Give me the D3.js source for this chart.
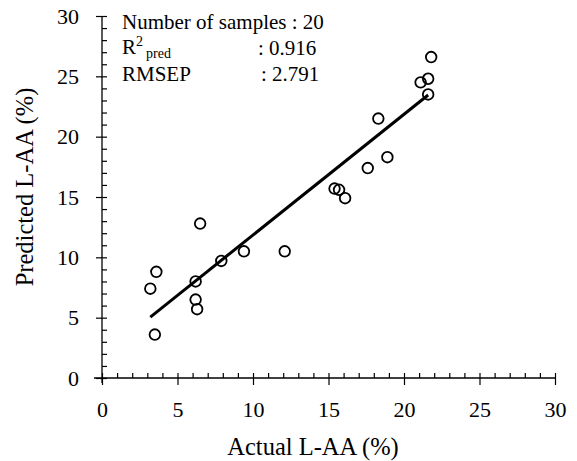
<!DOCTYPE html>
<html>
<head>
<meta charset="utf-8">
<script src="https://cdn.jsdelivr.net/npm/d3@7"></script>
<style>
  body { margin: 0; background: #fff; }
  svg { display: block; }
  text { font-family: "Liberation Serif", "Times New Roman", serif; fill: #000; }
</style>
</head>
<body>
<script>
(function(){

    //measured L-AA values (%)
    var actual = [3.2, 3.6, 3.5, 6.2, 6.2, 6.3, 6.5, 7.9, 9.4, 12.1, 15.4, 15.7, 16.1, 17.6, 18.3, 18.9, 21.1, 21.6, 21.6, 21.8];
    //predicted L-AA values (%)
    var predicted = [7.4, 8.8, 3.6, 8.0, 6.5, 5.7, 12.8, 9.7, 10.5, 10.5, 15.7, 15.6, 14.9, 17.4, 21.5, 18.3, 24.5, 24.8, 23.5, 26.6];
    //regression line ends
    var fitX = [3.2, 21.6];
    var fitY = [5.05, 23.45];
    var majorTicks = [0, 5, 10, 15, 20, 25, 30];
    var statLabels = ["Number of samples", "R", "RMSEP"];
    var statValues = ["20", "0.916", "2.791"];

    var width = 577,
        height = 461,
        serif = "'Liberation Serif', 'Times New Roman', serif";

    var svg = d3.select("body")
        .append("svg")
        .attr("width", width)
        .attr("height", height);

    //scales
    var x = d3.scaleLinear().domain([0, 30]).range([102, 555]);
    var y = d3.scaleLinear().domain([0, 30]).range([378, 16]);

    var minorTicks = d3.range(0, 31, 1).filter(function(v){ return v % 5 != 0; });

    //x minor ticks (inward)
    svg.append("g")
        .attr("transform", "translate(0," + y(0) + ")")
        .call(d3.axisTop(x).tickValues(minorTicks).tickSize(5).tickFormat(""))
        .call(function(g){ g.select(".domain").remove(); });

    //x major ticks + labels
    var xAxis = svg.append("g")
        .attr("class", "xaxis")
        .attr("transform", "translate(0," + y(0) + ")")
        .call(d3.axisBottom(x).tickValues(majorTicks).tickSize(7).tickPadding(16));
    xAxis.attr("font-family", serif).attr("font-size", 22);
    xAxis.select(".domain").remove();
    xAxis.selectAll(".tick line").attr("y1", -5);

    //y minor ticks (inward)
    svg.append("g")
        .attr("transform", "translate(" + x(0) + ",0)")
        .call(d3.axisRight(y).tickValues(minorTicks).tickSize(5).tickFormat(""))
        .call(function(g){ g.select(".domain").remove(); });

    //y major ticks + labels
    var yAxis = svg.append("g")
        .attr("class", "yaxis")
        .attr("transform", "translate(" + x(0) + ",0)")
        .call(d3.axisLeft(y).tickValues(majorTicks).tickSize(6).tickPadding(17));
    yAxis.attr("font-family", serif).attr("font-size", 22);
    yAxis.select(".domain").remove();
    yAxis.selectAll(".tick line").attr("x1", 5);

    svg.selectAll(".tick line").attr("stroke", "#000").attr("stroke-width", 1.2);

    //axis lines
    svg.append("line")
        .attr("x1", x(0) - 8).attr("x2", x(30))
        .attr("y1", y(0)).attr("y2", y(0))
        .attr("stroke", "#000").attr("stroke-width", 1.3);
    svg.append("line")
        .attr("x1", x(0)).attr("x2", x(0))
        .attr("y1", y(30)).attr("y2", y(0) + 5)
        .attr("stroke", "#000").attr("stroke-width", 1.3);

    //regression line
    svg.append("line")
        .attr("x1", x(fitX[0])).attr("y1", y(fitY[0]))
        .attr("x2", x(fitX[1])).attr("y2", y(fitY[1]))
        .attr("stroke", "#000")
        .attr("stroke-width", 3);

    //sample points
    svg.selectAll(".pt")
        .data(actual)
        .enter()
        .append("circle")
        .attr("class", "pt")
        .attr("cx", function(d){ return x(d); })
        .attr("cy", function(d, i){ return y(predicted[i]); })
        .attr("r", 5.3)
        .attr("fill", "none")
        .attr("stroke", "#000")
        .attr("stroke-width", 1.8);

    //statistics block
    var stats = svg.append("g").style("font-size", "21px");
    stats.append("text").attr("x", 122).attr("y", 29)
        .text(statLabels[0] + " : " + statValues[0]);
    var r2 = stats.append("text").attr("x", 122).attr("y", 54);
    r2.append("tspan").text(statLabels[1]);
    r2.append("tspan").attr("dy", -8).style("font-size", "14px").text("2");
    r2.append("tspan").attr("dy", 12).attr("dx", 3).style("font-size", "14px").text("pred");
    stats.append("text").attr("x", 258).attr("y", 55).text(": " + statValues[1]);
    stats.append("text").attr("x", 122).attr("y", 81).text(statLabels[2]);
    stats.append("text").attr("x", 261).attr("y", 81).text(": " + statValues[2]);

    //axis titles
    svg.append("text")
        .attr("x", 313)
        .attr("y", 455)
        .attr("text-anchor", "middle")
        .style("font-size", "24.5px")
        .text("Actual L-AA (%)");
    svg.append("text")
        .attr("transform", "translate(33,187) rotate(-90)")
        .attr("text-anchor", "middle")
        .style("font-size", "24.5px")
        .text("Predicted L-AA (%)");

})();
</script>
</body>
</html>
